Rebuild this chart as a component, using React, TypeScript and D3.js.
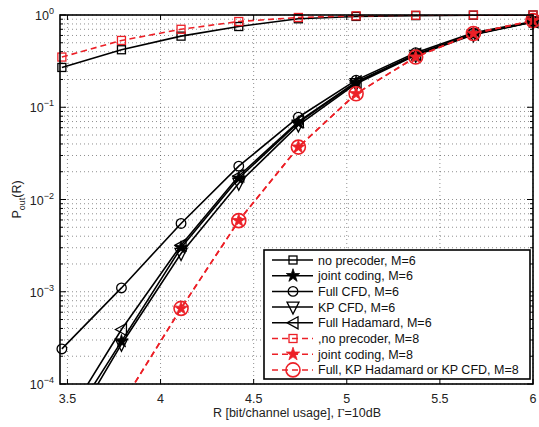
import React from "react";
import { scaleLinear, scaleLog, line, symbol, symbolStar } from "d3";

// rate points (bit/channel usage)
const R = [3.47, 3.79, 4.11, 4.42, 4.74, 5.05, 5.37, 5.68, 6.0];

// outage probability
const noPrec6 = [0.27, 0.42, 0.59, 0.75, 0.91, 0.965, 0.985, 0.995, 1.0];
const joint6 = [2.8e-5, 2.9e-4, 3.0e-3, 0.017, 0.068, 0.185, 0.37, 0.62, 0.84];
const fullCfd6 = [2.4e-4, 1.1e-3, 5.5e-3, 0.023, 0.078, 0.197, 0.39, 0.64, 0.85];
const kpCfd6 = [2.2e-5, 2.7e-4, 2.6e-3, 0.015, 0.064, 0.18, 0.365, 0.61, 0.84];
const fullHad6 = [3.5e-5, 3.9e-4, 3.2e-3, 0.018, 0.07, 0.188, 0.375, 0.62, 0.845];
const noPrec8 = [0.35, 0.53, 0.7, 0.85, 0.94, 0.98, 0.995, 1.0, 1.0];
const joint8 = [3e-6, 6e-5, 6.6e-4, 5.9e-3, 0.037, 0.14, 0.35, 0.63, 0.87];
const fullKp8 = [3e-6, 6e-5, 6.6e-4, 5.9e-3, 0.037, 0.14, 0.35, 0.63, 0.87];

const xTicks = [3.5, 4, 4.5, 5, 5.5, 6];
const yDecades = [-4, -3, -2, -1, 0];

const series = [
  { name: "no precoder, M=6", data: noPrec6, color: "#000", dash: null, marker: "square" },
  { name: "joint coding, M=6", data: joint6, color: "#000", dash: null, marker: "star" },
  { name: "Full CFD, M=6", data: fullCfd6, color: "#000", dash: null, marker: "circle" },
  { name: "KP CFD, M=6", data: kpCfd6, color: "#000", dash: null, marker: "tridown" },
  { name: "Full Hadamard, M=6", data: fullHad6, color: "#000", dash: null, marker: "trileft" },
  { name: ",no precoder, M=8", data: noPrec8, color: "#ec2027", dash: "6,4", marker: "square" },
  { name: "joint coding, M=8", data: joint8, color: "#ec2027", dash: "6,4", marker: "star" },
  { name: "Full, KP Hadamard or KP CFD, M=8", data: fullKp8, color: "#ec2027", dash: "6,4", marker: "bigcircle" },
];

const W = 539, H = 427;
const L = 60, Rt = 533, T = 15, B = 384;

const Marker = ({ type, x, y, color }) => {
  const sw = 1.3;
  if (type === "square")
    return <rect x={x - 4} y={y - 4} width={8} height={8} fill="none" stroke={color} strokeWidth={sw} />;
  if (type === "circle")
    return <circle cx={x} cy={y} r={4.8} fill="none" stroke={color} strokeWidth={sw} />;
  if (type === "bigcircle")
    return <circle cx={x} cy={y} r={7} fill="none" stroke={color} strokeWidth={1.6} />;
  if (type === "star")
    return (
      <path d={symbol().type(symbolStar).size(55)()} transform={`translate(${x},${y})`}
        fill={color} stroke={color} strokeWidth={0.8} />
    );
  if (type === "tridown")
    return <path d={`M${x - 6},${y - 5}L${x + 6},${y - 5}L${x},${y + 7}Z`} fill="none" stroke={color} strokeWidth={sw} />;
  if (type === "trileft")
    return <path d={`M${x - 6},${y}L${x + 5},${y - 6}L${x + 5},${y + 6}Z`} fill="none" stroke={color} strokeWidth={sw} />;
  return null;
};

export default function App() {
  const x = scaleLinear().domain([3.46, 6]).range([L, Rt]);
  const y = scaleLog().domain([1e-4, 1]).range([B, T]);
  const path = line<number>().x((d, i) => x(R[i])).y((d) => y(d));

  const minors: number[] = [];
  yDecades.slice(0, -1).forEach((e) => {
    for (let k = 2; k <= 9; k++) minors.push(k * Math.pow(10, e));
  });

  const font = "'Liberation Sans', Arial, Helvetica, sans-serif";
  const legX = 264, legY = 250, legW = 266, legH = 129, rowH = 15.7;

  return (
    <svg width={W} height={H} style={{ position: "absolute", left: 0, top: 0, background: "#fff" }} fontFamily={font}>
      <defs>
        <clipPath id="plot">
          <rect x={L} y={T} width={Rt - L} height={B - T} />
        </clipPath>
      </defs>
      <rect x={0} y={0} width={W} height={H} fill="#fff" />

      {/* grid */}
      <g stroke="#444" strokeWidth={0.6} strokeDasharray="1,3">
        {xTicks.map((t) => (
          <line key={"gx" + t} x1={x(t)} x2={x(t)} y1={T} y2={B} />
        ))}
        {minors.concat(yDecades.map((e) => Math.pow(10, e))).map((v) => (
          <line key={"gy" + v} x1={L} x2={Rt} y1={y(v)} y2={y(v)} />
        ))}
      </g>

      {/* ticks */}
      <g stroke="#000" strokeWidth={1}>
        {xTicks.map((t) => (
          <g key={"tx" + t}>
            <line x1={x(t)} x2={x(t)} y1={B} y2={B - 5} />
            <line x1={x(t)} x2={x(t)} y1={T} y2={T + 5} />
          </g>
        ))}
        {yDecades.map((e) => (
          <g key={"ty" + e}>
            <line x1={L} x2={L + 6} y1={y(Math.pow(10, e))} y2={y(Math.pow(10, e))} />
            <line x1={Rt} x2={Rt - 6} y1={y(Math.pow(10, e))} y2={y(Math.pow(10, e))} />
          </g>
        ))}
        {minors.map((v) => (
          <g key={"tm" + v}>
            <line x1={L} x2={L + 3} y1={y(v)} y2={y(v)} />
            <line x1={Rt} x2={Rt - 3} y1={y(v)} y2={y(v)} />
          </g>
        ))}
      </g>

      {/* curves */}
      <g clipPath="url(#plot)">
        {series.map((s) => (
          <path key={"l" + s.name} d={path(s.data) || ""} fill="none" stroke={s.color}
            strokeWidth={1.6} strokeDasharray={s.dash || undefined} />
        ))}
      </g>
      <g>
        {series.map((s) =>
          s.data.map((v, i) =>
            v >= 1e-4 ? <Marker key={s.name + i} type={s.marker} x={x(R[i])} y={y(v)} color={s.color} /> : null
          )
        )}
      </g>

      {/* axes box */}
      <rect x={L} y={T} width={Rt - L} height={B - T} fill="none" stroke="#000" strokeWidth={1.6} />

      {/* tick labels */}
      <g fontSize={12.5} fill="#222">
        {xTicks.map((t) => (
          <text key={"lx" + t} x={x(t)} y={B + 19} textAnchor="middle">{String(t)}</text>
        ))}
        {yDecades.map((e) => (
          <text key={"ly" + e} x={L - 6} y={y(Math.pow(10, e)) + 5} textAnchor="end">
            10<tspan dy={-6} fontSize={9}>{String(e === 0 ? 0 : "\u2212" + Math.abs(e))}</tspan>
          </text>
        ))}
      </g>

      {/* axis labels */}
      <text x={297} y={417} textAnchor="middle" fontSize={12.5} fill="#222">
        R [bit/channel usage], <tspan fontFamily="'Liberation Serif', 'Times New Roman', serif">Γ</tspan>=10dB
      </text>
      <text transform={`translate(21,${(T + B) / 2}) rotate(-90)`} textAnchor="middle" fontSize={12.5} fill="#222">
        P<tspan dy={4} fontSize={9}>out</tspan><tspan dy={-4}>(R)</tspan>
      </text>

      {/* legend */}
      <g>
        <rect x={legX} y={legY} width={legW} height={legH} fill="#fff" stroke="#000" strokeWidth={1.6} />
        {series.map((s, i) => {
          const cy = legY + 10 + i * rowH;
          return (
            <g key={"lg" + s.name}>
              <line x1={272} x2={313} y1={cy} y2={cy} stroke={s.color} strokeWidth={1.5}
                strokeDasharray={s.dash || undefined} />
              <Marker type={s.marker} x={293} y={cy} color={s.color} />
              <text x={318} y={cy + 4.5} fontSize={12.5} fill="#111">{s.name}</text>
            </g>
          );
        })}
      </g>
    </svg>
  );
}
